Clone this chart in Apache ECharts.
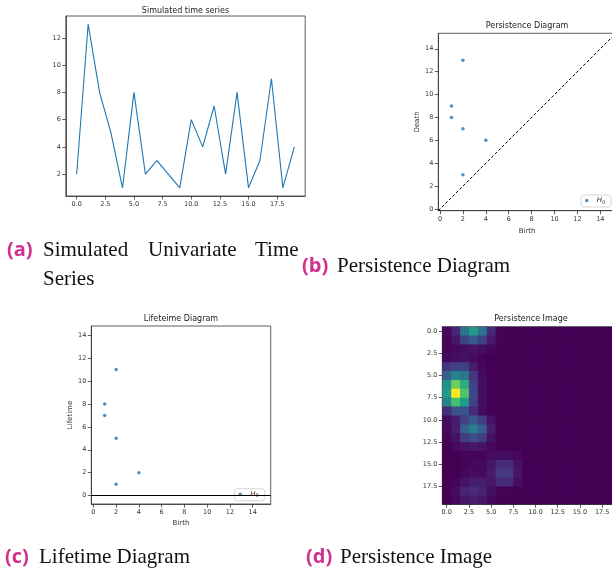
<!DOCTYPE html>
<html><head><meta charset="utf-8">
<script src="https://cdn.jsdelivr.net/npm/echarts@6/dist/echarts.min.js"></script>
<style>html,body{margin:0;padding:0;background:#fff}#c{width:612px;height:576px}</style>
</head><body><div id="c"></div>
<script>
// ---- data ----
const tsX = [0,1,2,3,4,5,6,7,8,9,10,11,12,13,14,15,16,17,18,19];
const tsY = [2,13,8,5,1,8,2,3,2,1,6,4,7,2,8,1,3,9,1,4];
const tsXTicks = [0,2.5,5,7.5,10,12.5,15,17.5];
const tsYTicks = [2,4,6,8,10,12];
const birth = [2,1,1,2,4,2];
const death = [13,9,8,7,6,3];
const lifetime = [11,8,7,5,2,1];
const diagTicks = [0,2,4,6,8,10,12,14];
const imgTicks = [0,2.5,5,7.5,10,12.5,15,17.5];
const pimg = [
 [0.02,0.10,0.38,0.55,0.38,0.12,0.01,0,0,0,0,0,0,0,0,0,0,0,0,0],
 [0.01,0.06,0.20,0.28,0.20,0.07,0.01,0,0,0,0,0,0,0,0,0,0,0,0,0],
 [0.01,0.02,0.04,0.05,0.04,0.02,0,0,0,0,0,0,0,0,0,0,0,0,0,0],
 [0.03,0.04,0.05,0.03,0.01,0,0,0,0,0,0,0,0,0,0,0,0,0,0,0],
 [0.15,0.20,0.20,0.08,0.02,0,0,0,0,0,0,0,0,0,0,0,0,0,0,0],
 [0.30,0.45,0.40,0.15,0.03,0,0,0,0,0,0,0,0,0,0,0,0,0,0,0],
 [0.50,0.78,0.62,0.20,0.04,0,0,0,0,0,0,0,0,0,0,0,0,0,0,0],
 [0.55,1.00,0.72,0.22,0.04,0,0,0,0,0,0,0,0,0,0,0,0,0,0,0],
 [0.45,0.70,0.55,0.20,0.04,0,0,0,0,0,0,0,0,0,0,0,0,0,0,0],
 [0.12,0.25,0.25,0.12,0.03,0,0,0,0,0,0,0,0,0,0,0,0,0,0,0],
 [0.03,0.08,0.20,0.28,0.18,0.05,0,0,0,0,0,0,0,0,0,0,0,0,0,0],
 [0.02,0.08,0.30,0.42,0.30,0.08,0,0,0,0,0,0,0,0,0,0,0,0,0,0],
 [0.01,0.05,0.18,0.24,0.18,0.05,0,0,0,0,0,0,0,0,0,0,0,0,0,0],
 [0,0.02,0.05,0.06,0.05,0.02,0,0,0,0,0,0,0,0,0,0,0,0,0,0],
 [0,0,0.01,0.01,0.01,0.03,0.04,0.04,0.02,0,0,0,0,0,0,0,0,0,0,0],
 [0,0,0.01,0.02,0.02,0.06,0.12,0.12,0.05,0,0,0,0,0,0,0,0,0,0,0],
 [0,0,0.02,0.03,0.03,0.07,0.17,0.17,0.06,0,0,0,0,0,0,0,0,0,0,0],
 [0,0.01,0.05,0.08,0.08,0.06,0.12,0.12,0.04,0,0,0,0,0,0,0,0,0,0,0],
 [0,0.03,0.10,0.12,0.10,0.04,0.01,0.01,0,0,0,0,0,0,0,0,0,0,0,0],
 [0,0.02,0.06,0.08,0.06,0.02,0,0,0,0,0,0,0,0,0,0,0,0,0,0]
];
const viridis = ['#440154','#482878','#3e4989','#31688e','#26828e','#1f9e89','#35b779','#6ece58','#b5de2b','#fde725'];

// ---- build ----
const blue = '#1f77b4', ink = '#333', magenta = '#d1308e';
const F = 'DejaVu Sans';
const lab = {fontSize:6.5, color:ink, fontFamily:F, margin:5};
function ax(gi, min, max, ticks, fmt, extra){
  return Object.assign({
    type:'value', gridIndex:gi, min:min, max:max,
    axisLine:{show:true, onZero:false, lineStyle:{color:ink, width:0.8}},
    axisTick:{show:true, inside:false, length:3.5, lineStyle:{color:ink, width:0.8}, customValues:ticks},
    axisLabel:Object.assign({}, lab, {customValues:ticks, formatter: fmt || (v=>String(v))}),
    splitLine:{show:false},
    nameTextStyle:{fontSize:7, color:ink, fontFamily:F}
  }, extra||{});
}
const f1 = v => v.toFixed(1);
const dlo = -0.15, dhi = 15.35;
const heat = [];
pimg.forEach((row, r) => row.forEach((v, c) => heat.push([c, r, v])));
const legendRich = {
  h:{fontStyle:'italic', fontSize:7, fontFamily:F, color:ink},
  s:{fontSize:5, fontFamily:F, color:ink, padding:[4,0,0,0]}
};
function leg(left, top){
  return {data:['H0'], left:left, top:top, orient:'horizontal',
    itemWidth:10, itemHeight:3.5, padding:[2,6,2,4],
    borderColor:'#ccc', borderWidth:0.8, borderRadius:3, backgroundColor:'rgba(255,255,255,0.85)',
    formatter:()=>'{h|H}{s|0}', textStyle:{rich:legendRich}, selectedMode:false, icon:'circle'};
}
function ttl(text, cx, top){
  return {text:text, left:cx, top:top, textAlign:'center', padding:0,
    textStyle:{fontSize:8, fontWeight:'normal', color:'#222', fontFamily:F}};
}
function cap(x, y, txt, opts){
  return {type:'text', x:x, y:y, style:Object.assign({text:txt, fontSize:21, fontFamily:'Liberation Serif', fill:'#111', verticalAlign:'middle'}, opts||{})};
}
function tag(x, y, txt){
  return cap(x, y, txt, {fontFamily:'Open Sans', fontWeight:'bold', fill:magenta, fontSize:20});
}
const option = {
  animation:false,
  backgroundColor:'#fff',
  title:[ttl('Simulated time series',185.5,7), ttl('Persistence Diagram',527,22), ttl('Lifeteime Diagram',181,315), ttl('Persistence Image',531,315)],
  grid:[
    {left:65.8, top:16, width:239.4, height:180, show:true, borderColor:ink, borderWidth:0.8, outerBoundsMode:'none'},
    {left:438.3, top:33.3, width:177.5, height:177.4, show:true, borderColor:ink, borderWidth:0.8, outerBoundsMode:'none'},
    {left:91.3, top:326, width:179.4, height:178, show:true, borderColor:ink, borderWidth:0.8, outerBoundsMode:'none'},
    {left:442.3, top:326.7, width:177.6, height:177.6, show:true, borderColor:ink, borderWidth:0.8, backgroundColor:viridis[0], outerBoundsMode:'none'}
  ],
  xAxis:[
    ax(0,-0.95,19.95,tsXTicks,f1),
    ax(1,dlo,dhi,diagTicks,null,{name:'Birth', nameLocation:'middle', nameGap:17}),
    ax(2,-0.18,15.58,diagTicks,null,{name:'Birth', nameLocation:'middle', nameGap:16}),
    ax(3,-0.5,19.5,imgTicks,f1)
  ],
  yAxis:[
    ax(0,0.4,13.6,tsYTicks),
    ax(1,dlo,dhi,diagTicks,null,{name:'Death', nameLocation:'middle', nameGap:17}),
    ax(2,-0.73,14.8,diagTicks,null,{name:'Lifetime', nameLocation:'middle', nameGap:17}),
    ax(3,-0.5,19.5,imgTicks,f1,{inverse:true})
  ],
  legend:[leg(581,195), leg(234.5,488.7)],
  visualMap:{type:'continuous', show:false, seriesIndex:5, dimension:2, min:0, max:1, inRange:{color:viridis}},
  series:[
    {type:'line', xAxisIndex:0, yAxisIndex:0, data:tsX.map((x,i)=>[x,tsY[i]]), showSymbol:false,
      lineStyle:{color:blue, width:1.1}, itemStyle:{color:blue}},
    {type:'line', xAxisIndex:1, yAxisIndex:1, data:[[dlo,dlo],[dhi,dhi]], showSymbol:false, clip:true,
      lineStyle:{color:'#000', width:1, type:[3,2]}},
    {type:'scatter', name:'H0', xAxisIndex:1, yAxisIndex:1, data:birth.map((b,i)=>[b,death[i]]), symbolSize:3.5, itemStyle:{color:blue}},
    {type:'scatter', name:'H0', xAxisIndex:2, yAxisIndex:2, data:birth.map((b,i)=>[b,lifetime[i]]), symbolSize:3.5, itemStyle:{color:blue},
      markLine:{silent:true, symbol:['none','none'], label:{show:false}, lineStyle:{color:'#000', width:1.2, type:'solid'}, data:[{yAxis:0}]}},
    {type:'line', xAxisIndex:2, yAxisIndex:2, data:[], showSymbol:false},
    {type:'custom', xAxisIndex:3, yAxisIndex:3, data:heat, clip:true,
      renderItem:function(params, api){
        const x = api.value(0), y = api.value(1);
        const p = api.coord([x-0.5, y-0.5]), q = api.coord([x+0.5, y+0.5]);
        const c = api.visual('color');
        return {type:'rect', shape:{x:Math.min(p[0],q[0]), y:Math.min(p[1],q[1]), width:Math.abs(q[0]-p[0])+1.5, height:Math.abs(q[1]-p[1])+1.5},
          style:{fill:c}};
      }}
  ],
  graphic:[
    tag(7,250,'(a)'),
    cap(43,250,'Simulated'), cap(148,250,'Univariate'), cap(255,250,'Time'),
    cap(43,279,'Series'),
    tag(302,266,'(b)'), cap(337,266,'Persistence Diagram'),
    tag(5,557,'(c)'), cap(39,557,'Lifetime Diagram'),
    tag(306,557,'(d)'), cap(340,557,'Persistence Image')
  ]
};
const chart = echarts.init(document.getElementById('c'), null, {renderer:'canvas'});
chart.setOption(option);
</script></body></html>
